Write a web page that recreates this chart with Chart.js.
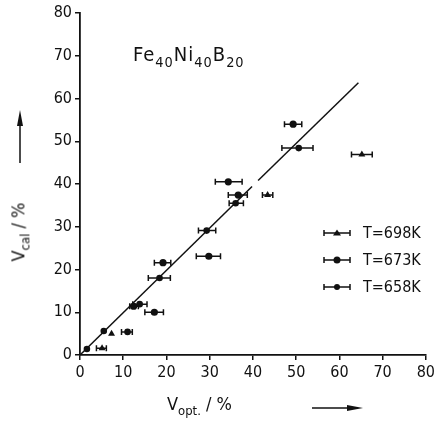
<!DOCTYPE html>
<html lang="en">

<head>
    <meta charset="UTF-8">
    <title>Fe40Ni40B20 - Vcal x Vopt</title>
    <style>
        body { margin: 0; background: #fff; }
        .quadro { position: relative; width: 438px; height: 426px; font-family: 'DejaVu Sans Condensed', 'DejaVu Sans', sans-serif; color: #111; }
        .quadro canvas { position: absolute; left: 0; top: 0; }
        .texto { position: absolute; white-space: nowrap; }
        .texto sub { font-size: 72%; vertical-align: -0.4em; }
        #formula { left: 133px; top: 42px; font-size: 20px; letter-spacing: 1px; }
        #titulo_y { left: 20px; top: 232px; font-size: 18px; transform: translate(-50%, -50%) rotate(-90deg); }
        #titulo_x { left: 167px; top: 393px; font-size: 18px; }
        .legenda { position: absolute; left: 323px; font-size: 16px; display: flex; align-items: center; }
        .legenda span { margin-left: 12px; }
        svg.setas { position: absolute; left: 0; top: 0; }
    </style>
</head>

<body>
    <div class="quadro">
        <canvas id="myChart" width="438" height="426"></canvas>
        <div class="texto" id="formula">Fe<sub>40</sub>Ni<sub>40</sub>B<sub>20</sub></div>
        <div class="texto" id="titulo_y">V<sub>cal</sub> / %</div>
        <div class="texto" id="titulo_x">V<sub>opt.</sub> / %</div>

        <div class="legenda" style="top:223px">
            <svg width="28" height="10"><path d="M1 2V8M1 5H27M27 2V8" stroke="#111" stroke-width="1.5" fill="none"/><path d="M14 1.5L18 7.5H10Z" fill="#111"/></svg>
            <span>T=698K</span>
        </div>
        <div class="legenda" style="top:250px">
            <svg width="28" height="10"><path d="M1 2V8M1 5H27M27 2V8" stroke="#111" stroke-width="1.5" fill="none"/><circle cx="14" cy="5" r="3.5" fill="#111"/></svg>
            <span>T=673K</span>
        </div>
        <div class="legenda" style="top:277px">
            <svg width="28" height="10"><path d="M1 2V8M1 5H27M27 2V8" stroke="#111" stroke-width="1.5" fill="none"/><circle cx="14" cy="5" r="3" fill="#111"/></svg>
            <span>T=658K</span>
        </div>

        <!-- setas dos eixos -->
        <svg class="setas" width="438" height="426">
            <path d="M20 163V120" stroke="#111" stroke-width="1.5"/>
            <path d="M20 110L23 126H17Z" fill="#111"/>
            <path d="M312 408H352" stroke="#111" stroke-width="1.5"/>
            <path d="M363 408L347 405V411Z" fill="#111"/>
        </svg>
    </div>
</body>

</html>
<script src="https://cdn.jsdelivr.net/npm/chart.js@4.4.0/dist/chart.umd.min.js"></script>

<script>

    // T = 698K (triangulos)
    const x698 = [5.1, 7.3, 43.4, 65.2];
    const y698 = [1.6, 5.0, 37.4, 46.9];
    const min698 = [3.8, 7.3, 42.2, 62.8];
    const max698 = [6.1, 7.3, 44.6, 67.6];

    // T = 673K
    const x673 = [12.4, 17.2, 19.2, 29.8, 34.3, 36.6, 49.3];
    const y673 = [11.4, 10.0, 21.6, 23.1, 40.5, 37.4, 54.0];
    const min673 = [11.5, 15.0, 17.2, 26.9, 31.3, 34.3, 47.3];
    const max673 = [13.5, 19.3, 21.0, 32.5, 37.5, 38.7, 51.3];

    // T = 658K
    const x658 = [1.6, 5.5, 11.0, 13.8, 18.4, 29.3, 36.0, 50.6];
    const y658 = [1.4, 5.6, 5.4, 11.9, 18.0, 29.1, 35.5, 48.4];
    const min658 = [1.6, 5.5, 9.6, 12.2, 15.8, 27.4, 34.5, 46.7];
    const max658 = [1.6, 5.5, 12.1, 15.5, 20.9, 31.4, 37.8, 53.9];

    // reta Vcal = Vopt (desenhada em dois trechos, como no original)
    const retaX = [[0, 39.8], [41.2, 64.4]];
    const retaY = [[0, 39.4], [40.8, 63.7]];

    const ticksEixo = [0, 10, 20, 30, 40, 50, 60, 70, 80];

    const preto = '#111';
    var dataSets = [];

    // barras de erro horizontais: uma linha com tracinho em cada ponta
    function barrasErro(xs, ys, mins, maxs) {
        for (let i = 0; i < xs.length; i++) {
            if (maxs[i] - mins[i] <= 0) continue;
            dataSets.push({
                type: 'line',
                data: [{ x: mins[i], y: ys[i] }, { x: maxs[i], y: ys[i] }],
                borderColor: preto,
                borderWidth: 1.5,
                pointStyle: 'line',
                rotation: 90,
                pointRadius: 3,
                pointBorderColor: preto,
                pointBorderWidth: 1.5,
                order: 2
            });
        }
    }

    function pontos(xs, ys, estilo, raio) {
        let lista = [];
        for (let i = 0; i < xs.length; i++) {
            lista.push({ x: xs[i], y: ys[i] });
        }
        dataSets.push({
            type: 'scatter',
            data: lista,
            pointStyle: estilo,
            pointRadius: raio,
            backgroundColor: preto,
            borderColor: preto,
            borderWidth: 0,
            order: 1
        });
    }

    for (let k = 0; k < retaX.length; k++) {
        dataSets.push({
            type: 'line',
            data: [{ x: retaX[k][0], y: retaY[k][0] }, { x: retaX[k][1], y: retaY[k][1] }],
            borderColor: preto,
            borderWidth: 1.5,
            pointRadius: 0,
            order: 3
        });
    }

    barrasErro(x698, y698, min698, max698);
    barrasErro(x673, y673, min673, max673);
    barrasErro(x658, y658, min658, max658);

    pontos(x698, y698, 'triangle', 4);
    pontos(x673, y673, 'circle', 3.6);
    pontos(x658, y658, 'circle', 3.3);

    const fonteTicks = { family: "'DejaVu Sans Condensed', 'DejaVu Sans', sans-serif", size: 16 };

    function eixo(tamanho) {
        return {
            type: 'linear',
            min: 0,
            max: 80,
            afterBuildTicks: function (scale) {
                scale.ticks = ticksEixo.map(v => ({ value: v }));
            },
            ticks: { color: preto, font: fonteTicks, padding: 3 },
            grid: { drawOnChartArea: false, tickLength: 5, color: preto, lineWidth: 1.5 },
            border: { color: preto, width: 1.8 },
            afterFit: function (scale) {
                if (scale.isHorizontal()) scale.height = tamanho;
                else scale.width = tamanho;
            }
        };
    }

    const ctx = document.getElementById('myChart');

    new Chart(ctx, {
        data: { datasets: dataSets },
        options: {
            responsive: false,
            animation: false,
            layout: { padding: { left: 0, right: 11, top: 13, bottom: 0 } },
            plugins: { legend: { display: false }, tooltip: { enabled: false } },
            scales: {
                x: eixo(71),
                y: eixo(80)
            }
        }
    });

</script>
